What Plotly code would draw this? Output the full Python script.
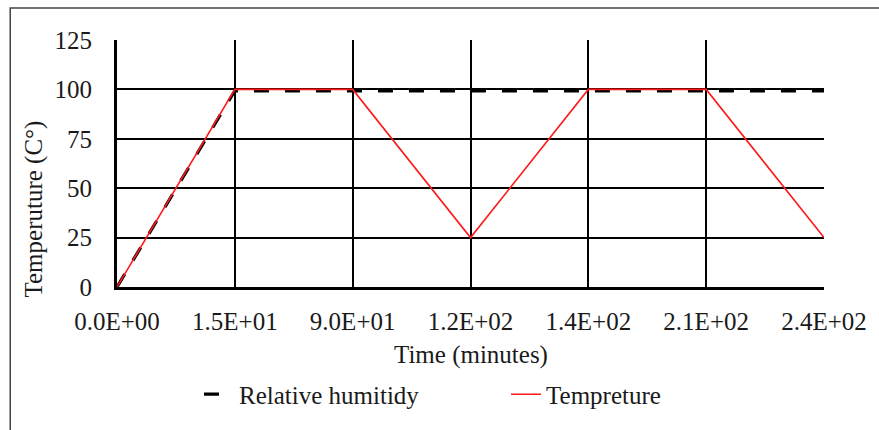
import plotly.graph_objects as go

# Time points (minutes) shown as evenly spaced categories
time_labels = ["0.0E+00", "1.5E+01", "9.0E+01", "1.2E+02", "1.4E+02", "2.1E+02", "2.4E+02"]
humidity = [0, 99.3, 99.3, 99.3, 99.3, 99.3, 99.3]
temperature = [0, 100, 100, 25, 100, 100, 25]
y_ticks = [0, 25, 50, 75, 100, 125]

FONT = "Liberation Serif"
TXT = "#1a1a1a"

fig = go.Figure()
fig.add_trace(go.Scatter(
    x=time_labels, y=humidity, mode="lines", name="Relative humitidy",
    line=dict(color="black", width=3.2, dash="15px,16px"),
))
fig.add_trace(go.Scatter(
    x=time_labels, y=temperature, mode="lines", name="Tempreture",
    line=dict(color="#ff1a1a", width=1.6),
))

fig.update_layout(
    width=879, height=430,
    margin=dict(l=117, r=53, t=40, b=137),
    paper_bgcolor="white", plot_bgcolor="white",
    font=dict(family=FONT, size=25, color=TXT),
    showlegend=True,
    legend=dict(
        orientation="h", x=0.116, xanchor="left", y=-0.435, yanchor="middle",
        font=dict(family=FONT, size=25, color=TXT),
        entrywidth=262, bgcolor="rgba(0,0,0,0)",
    ),
    xaxis=dict(
        type="category", range=[0, len(time_labels) - 1],
        showgrid=True, gridcolor="black", gridwidth=1.5,
        showline=True, linecolor="black", linewidth=3,
        ticks="", ticklabelstandoff=10,
        tickfont=dict(family=FONT, size=25, color=TXT),
        fixedrange=True,
    ),
    yaxis=dict(
        range=[0, 125], tickvals=y_ticks,
        showgrid=True, gridcolor="black", gridwidth=1.5,
        zeroline=False,
        showline=True, linecolor="black", linewidth=3,
        ticks="", ticklabelstandoff=17,
        tickfont=dict(family=FONT, size=25, color=TXT),
        fixedrange=True,
    ),
    annotations=[
        dict(text="Temperuture (C°)", textangle=-90, xref="paper", yref="paper",
             x=-0.118, y=0.316, xanchor="center", yanchor="middle", showarrow=False,
             font=dict(family=FONT, size=25, color=TXT)),
        dict(text="Time (minutes)", xref="paper", yref="paper",
             x=0.5, y=-0.275, xanchor="center", yanchor="middle", showarrow=False,
             font=dict(family=FONT, size=25, color=TXT)),
    ],
    shapes=[
        dict(type="rect", xref="paper", yref="paper",
             x0=-0.151, x1=1.1, y0=-0.6, y1=1.130,
             line=dict(color="#444444", width=1.5), layer="below"),
    ],
)

fig.write_html("out.html")
